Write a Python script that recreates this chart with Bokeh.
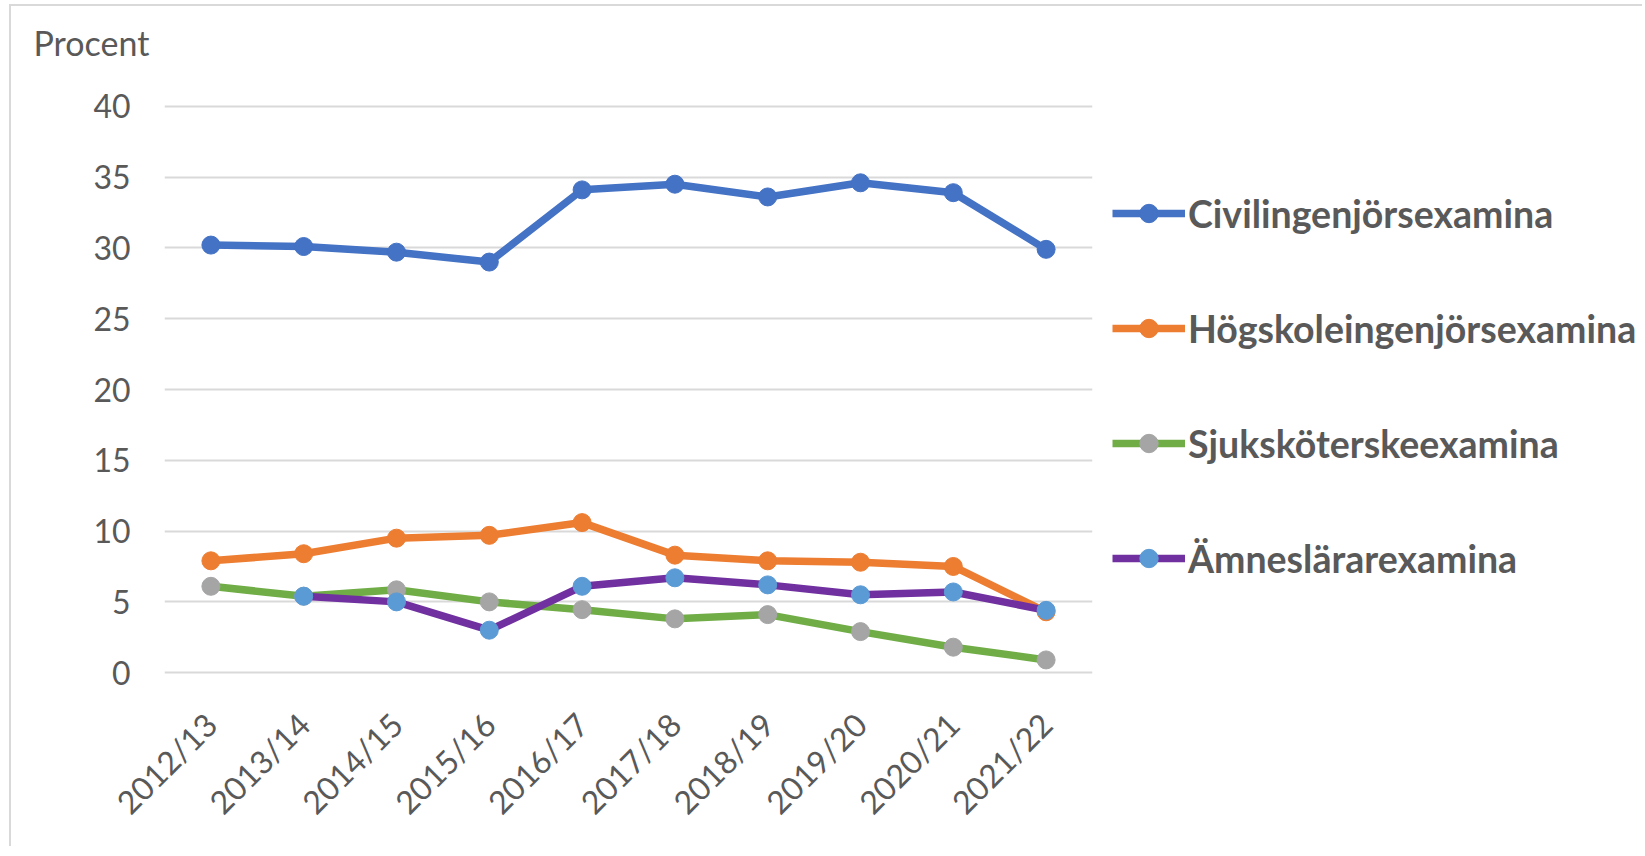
import math
from bokeh.plotting import figure
from bokeh.layouts import row
from bokeh.models import (ColumnDataSource, FactorRange, Range1d, FixedTicker, Legend,
                          LegendItem, Title)
from bokeh.embed import file_html
from bokeh.resources import INLINE

years = ["2012/13", "2013/14", "2014/15", "2015/16", "2016/17",
         "2017/18", "2018/19", "2019/20", "2020/21", "2021/22"]
civil = [30.2, 30.1, 29.7, 29.0, 34.1, 34.5, 33.6, 34.6, 33.9, 29.9]
hogskole = [7.9, 8.4, 9.5, 9.7, 10.6, 8.3, 7.9, 7.8, 7.5, 4.3]
sjuk = [6.1, 5.4, 5.85, 5.0, 4.45, 3.8, 4.1, 2.9, 1.8, 0.9]
amnes = [float("nan"), 5.4, 5.0, 3.0, 6.1, 6.7, 6.2, 5.5, 5.7, 4.4]
y_ticks = [0, 5, 10, 15, 20, 25, 30, 35, 40]

series = [
    ("Civilingenjörsexamina", civil, "#4472C4", "#4472C4"),
    ("Högskoleingenjörsexamina", hogskole, "#ED7D31", "#ED7D31"),
    ("Sjuksköterskeexamina", sjuk, "#70AD47", "#A5A5A5"),
    ("Ämneslärarexamina", amnes, "#7030A0", "#5B9BD5"),
]

FONT = "Lato"
TXT = "#595959"
H = 840

# ---- main chart ----
p = figure(width=1091, height=H, output_backend="svg", toolbar_location=None,
           x_range=FactorRange(factors=years, range_padding=0),
           y_range=Range1d(-0.2, 40.2),
           min_border_left=153, min_border_right=10,
           min_border_top=97, min_border_bottom=171)
p.outline_line_color = None
p.background_fill_color = "white"
p.border_fill_color = "white"

# heading; the empty second line lifts it above the plot area
procent = Title(text="Procent\n", text_font=FONT, text_font_size="34px",
                text_font_style="normal", text_color=TXT, align="left",
                offset=-131, standoff=0)
p.add_layout(procent, "above")

p.xgrid.grid_line_color = None
p.ygrid.grid_line_color = "#D9D9D9"
p.ygrid.grid_line_width = 2
p.yaxis.ticker = FixedTicker(ticks=y_ticks)

xax = p.below[0]
yax = p.left[0]
for ax in (xax, yax):
    ax.axis_line_color = None
    ax.major_tick_line_color = None
    ax.minor_tick_line_color = None
    ax.major_tick_out = 0
    ax.major_tick_in = 0
    ax.minor_tick_out = 0
    ax.minor_tick_in = 0
    ax.major_label_text_font = FONT
    ax.major_label_text_font_size = "32px"
    ax.major_label_text_color = TXT
yax.major_label_standoff = 34
xax.major_label_orientation = math.pi / 4
xax.major_label_standoff = 43

# ---- legend panel (same series, drawn outside its view) ----
q = figure(width=540, height=H, output_backend="svg", toolbar_location=None,
           x_range=FactorRange(factors=years), y_range=Range1d(1000, 1001),
           x_axis_location=None, y_axis_location=None,
           min_border_left=0, min_border_right=0, min_border_top=0, min_border_bottom=0)
q.outline_line_color = None
q.grid.grid_line_color = None
q.background_fill_color = "white"
q.border_fill_color = "white"

items = []
for name, vals, lc, mc in series:
    src = ColumnDataSource(dict(x=years, y=vals))
    p.line("x", "y", source=src, line_color=lc, line_width=7.5)
    p.scatter("x", "y", source=src, size=18, fill_color=mc, line_color=mc)
    r1 = q.line("x", "y", source=src, line_color=lc, line_width=7.5)
    r2 = q.scatter("x", "y", source=src, size=18, fill_color=mc, line_color=mc)
    items.append(LegendItem(label=name, renderers=[r1, r2]))

legend = Legend(items=items, location=(10, 94))
legend.label_text_font = FONT
legend.label_text_font_size = "37.5px"
legend.label_text_font_style = "bold"
legend.label_text_color = TXT
legend.glyph_width = 73
legend.glyph_height = 46
legend.label_height = 46
legend.label_standoff = 3
legend.spacing = 69
legend.padding = 0
legend.margin = 0
legend.border_line_color = None
legend.background_fill_alpha = 0
q.add_layout(legend, "center")

layout = row(p, q)
layout.styles = {"margin-left": "9px", "margin-top": "4px",
                 "border-left": "2px solid #d9d9d9", "border-top": "2px solid #d9d9d9"}

open("out.html", "w").write(file_html(layout, INLINE))
